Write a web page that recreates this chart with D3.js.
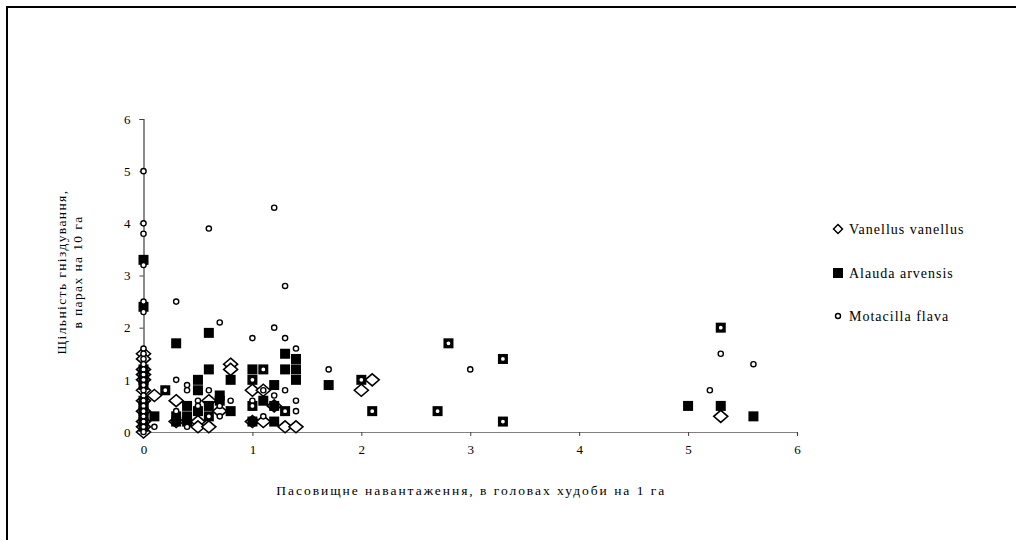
<!DOCTYPE html>
<html>
<head>
<meta charset="utf-8">
<script src="https://cdn.jsdelivr.net/npm/d3@7"></script>
<style>
  body { margin: 0; background: #fff; }
  svg text { font-family: "Liberation Serif", "Times New Roman", serif; fill: #000; }
</style>
</head>
<body>
<svg id="chart" width="1016" height="540"></svg>
<script>
// series, values as [grazing load, pairs per 10 ha]
const seriesNames = ['Vanellus vanellus', 'Alauda arvensis', 'Motacilla flava']

const vanellus = [
  [0, 1.5], [0, 1.4], [0, 1.2], [0, 1.1], [0, 1.0], [0, 0.8], [0, 0.6], [0, 0.4], [0, 0.2], [0, 0.1], [0, 0.0],
  [0.1, 0.7], [0.3, 0.6], [0.3, 0.2], [0.5, 0.2], [0.5, 0.1], [0.6, 0.1], [0.6, 0.6], [0.7, 0.4],
  [0.8, 1.3], [0.8, 1.2], [1.0, 0.8], [1.0, 0.2], [1.1, 0.8], [1.1, 0.2], [1.2, 0.5], [1.3, 0.1], [1.4, 0.1],
  [2.0, 0.8], [2.1, 1.0], [5.3, 0.3]
]

const alauda = [
  [0, 3.3], [0, 2.4], [0, 1.2], [0, 1.1], [0, 1.0], [0, 0.9], [0, 0.6], [0, 0.5], [0, 0.4], [0, 0.3], [0, 0.2], [0, 0.1],
  [0.1, 0.3], [0.2, 0.8], [0.3, 1.7], [0.3, 0.3], [0.3, 0.2], [0.4, 0.5], [0.4, 0.3], [0.4, 0.2],
  [0.5, 1.0], [0.5, 0.8], [0.5, 0.4], [0.6, 1.9], [0.6, 1.2], [0.6, 0.5], [0.6, 0.3], [0.7, 0.7], [0.7, 0.6],
  [0.8, 1.0], [0.8, 0.4], [1.0, 1.2], [1.0, 1.0], [1.0, 0.5], [1.0, 0.2], [1.1, 1.2], [1.1, 0.6],
  [1.2, 0.9], [1.2, 0.5], [1.2, 0.2], [1.3, 1.5], [1.3, 1.2], [1.3, 0.4], [1.4, 1.4], [1.4, 1.2], [1.4, 1.0],
  [1.7, 0.9], [2.0, 1.0], [2.1, 0.4], [2.7, 0.4], [2.8, 1.7], [3.3, 1.4], [3.3, 0.2],
  [5.0, 0.5], [5.3, 2.0], [5.3, 0.5], [5.6, 0.3]
]

const motacilla = [
  [0, 5.0], [0, 4.0], [0, 3.8], [0, 3.2], [0, 2.5], [0, 2.3], [0, 1.6], [0, 1.5], [0, 1.4], [0, 1.3], [0, 1.2],
  [0, 1.1], [0, 1.0], [0, 0.9], [0, 0.8], [0, 0.7], [0, 0.6], [0, 0.5], [0, 0.4], [0, 0.3], [0, 0.2], [0, 0.1], [0, 0.0],
  [0.1, 0.1], [0.2, 0.8], [0.3, 2.5], [0.3, 1.0], [0.3, 0.4], [0.4, 0.9], [0.4, 0.8], [0.4, 0.1],
  [0.5, 0.6], [0.5, 0.5], [0.6, 3.9], [0.6, 0.8], [0.6, 0.3], [0.7, 2.1], [0.7, 0.5], [0.7, 0.3], [0.8, 0.6],
  [1.0, 1.8], [1.0, 1.0], [1.0, 0.6], [1.0, 0.5], [1.1, 1.2], [1.1, 0.8], [1.1, 0.3],
  [1.2, 4.3], [1.2, 2.0], [1.2, 0.7], [1.3, 2.8], [1.3, 1.8], [1.3, 0.8], [1.3, 0.4],
  [1.4, 1.6], [1.4, 0.6], [1.4, 0.4], [1.7, 1.2], [2.0, 1.0], [2.1, 0.4], [2.7, 0.4], [2.8, 1.7],
  [3.0, 1.2], [3.3, 1.4], [3.3, 0.2], [5.2, 0.8], [5.3, 2.0], [5.3, 1.5], [5.6, 1.3]
]

const xTicks = [0, 1, 2, 3, 4, 5, 6]
const yTicks = [0, 1, 2, 3, 4, 5, 6]
const xTitle = 'Пасовищне навантаження, в головах худоби на 1 га'
const yTitle = ['Щільність гніздування,', 'в парах на 10 га']

const svg = d3.select('#chart')

// outer chart frame, runs off the right and bottom edges
svg.append('rect')
  .attr('x', 7).attr('y', 7)
  .attr('width', 1100).attr('height', 600)
  .attr('fill', 'none').attr('stroke', '#000').attr('stroke-width', 2)

const x = d3.scaleLinear().domain([0, 6]).range([143.5, 797])
const y = d3.scaleLinear().domain([0, 6]).range([432, 119])

const xAxis = d3.axisBottom(x).tickValues(xTicks).tickSize(4).tickPadding(9).tickFormat(d3.format('d'))
const yAxis = d3.axisLeft(y).tickValues(yTicks).tickSize(4).tickPadding(9).tickFormat(d3.format('d'))

const gx = svg.append('g').attr('transform', `translate(0,${y(0)})`).call(xAxis)
const gy = svg.append('g').attr('transform', `translate(${x(0)},0)`).call(yAxis)

gx.select('.domain').attr('stroke', '#808080').attr('stroke-width', 1.2)
gy.select('.domain').attr('stroke', '#404040').attr('stroke-width', 1.2)
svg.selectAll('.tick line').attr('stroke', '#404040')
svg.selectAll('.tick text').attr('font-size', 13).attr('fill', '#000')

gx.append('text')
  .attr('x', (x(0) + x(6)) / 2).attr('y', 63)
  .attr('text-anchor', 'middle').attr('font-size', 13.5).attr('fill', '#000')
  .attr('textLength', 388).attr('lengthAdjust', 'spacing')
  .text(xTitle)

const yt = svg.append('text')
  .attr('transform', 'translate(66,272) rotate(-90)')
  .attr('text-anchor', 'middle').attr('font-size', 13.5).attr('letter-spacing', 1.4)
yt.append('tspan').attr('x', 0).attr('dy', 0).text(yTitle[0])
yt.append('tspan').attr('x', 0).attr('dy', 16).text(yTitle[1])

const plot = svg.append('g')

const diamond = (w, h) => `M0,${-h}L${w},0L0,${h}L${-w},0Z`

// series order as in the workbook: lapwing, skylark, wagtail on top
plot.selectAll('path.vanellus')
  .data(vanellus).enter().append('path')
  .attr('class', 'vanellus')
  .attr('transform', d => `translate(${x(d[0])},${y(d[1])})`)
  .attr('d', diamond(7, 6))
  .attr('fill', '#fff').attr('stroke', '#000').attr('stroke-width', 1.6)

plot.selectAll('rect.alauda')
  .data(alauda).enter().append('rect')
  .attr('class', 'alauda')
  .attr('x', d => x(d[0]) - 5).attr('y', d => y(d[1]) - 5)
  .attr('width', 10).attr('height', 10)
  .attr('fill', '#000')

plot.selectAll('circle.motacilla')
  .data(motacilla).enter().append('circle')
  .attr('class', 'motacilla')
  .attr('cx', d => x(d[0])).attr('cy', d => y(d[1]))
  .attr('r', 2.6)
  .attr('fill', '#fff').attr('stroke', '#000').attr('stroke-width', 1.4)

// legend
const legendY = [229, 273, 316]
const lg = svg.append('g')
seriesNames.forEach((name, i) => {
  const cy = legendY[i]
  if (i === 0) {
    lg.append('path').attr('transform', `translate(838,${cy})`).attr('d', diamond(4.5, 4.5))
      .attr('fill', '#fff').attr('stroke', '#000').attr('stroke-width', 1.5)
  } else if (i === 1) {
    lg.append('rect').attr('x', 833).attr('y', cy - 5).attr('width', 10).attr('height', 10).attr('fill', '#000')
  } else {
    lg.append('circle').attr('cx', 838).attr('cy', cy).attr('r', 2.5)
      .attr('fill', '#fff').attr('stroke', '#000').attr('stroke-width', 1.4)
  }
  lg.append('text').attr('x', 849).attr('y', cy).attr('dy', '0.35em')
    .attr('font-size', 14).attr('letter-spacing', 1)
    .text(name)
})
</script>
</body>
</html>
